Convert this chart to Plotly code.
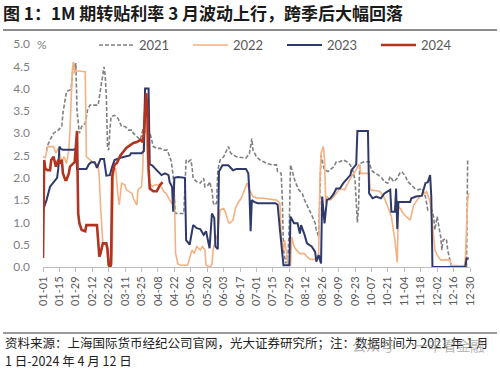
import plotly.graph_objects as go

# ---- data (day of year index, 1M discount rate %) ----
tick_labels = ["01-01", "01-15", "01-29", "02-12", "02-26", "03-11", "03-25", "04-08", "04-22",
               "05-06", "05-20", "06-03", "06-17", "07-01", "07-15", "07-29", "08-12", "08-26",
               "09-09", "09-23", "10-07", "10-21", "11-04", "11-18", "12-02", "12-16", "12-30"]
tick_days = [0, 14, 28, 42, 56, 70, 84, 98, 112, 126, 140, 154, 168, 182, 196, 210, 224, 238,
             252, 266, 280, 294, 308, 322, 336, 350, 364]

series_names = ["2021", "2022", "2023", "2024"]

rate_2021 = [(3, 2.6), (4, 2.73), (6, 2.85), (9, 3.0), (13, 3.07), (16, 3.15), (17, 3.45), (19, 3.82),
             (20, 3.93), (23, 3.97), (24, 4.0), (25, 4.3), (26, 4.57), (27, 4.4), (28, 4.57), (29, 3.5),
             (30, 3.18), (31, 3.0), (33, 3.15), (36, 3.22), (38, 3.52), (40, 3.63), (47, 3.63), (48, 3.82),
             (50, 4.19), (52, 4.49), (53, 4.3), (54, 3.82), (55, 2.7), (56, 2.62), (57, 3.07), (58, 3.37),
             (61, 3.4), (64, 3.33), (67, 3.15), (70, 3.15), (73, 3.07), (76, 3.07), (77, 3.0), (80, 2.92),
             (83, 2.85), (85, 3.07), (88, 3.03), (91, 3.0), (92, 2.92), (94, 2.7), (97, 2.66), (100, 2.66),
             (103, 2.62), (106, 2.62), (108, 2.47), (109, 2.4), (110, 2.25), (111, 2.03), (112, 1.58),
             (113, 1.2), (120, 1.2), (121, 1.8), (122, 2.4), (124, 2.36), (126, 2.4), (127, 2.25),
             (128, 1.99), (131, 1.91), (134, 1.88), (137, 1.99), (138, 1.8), (141, 1.84), (142, 1.91),
             (144, 1.73), (145, 1.46), (146, 1.39), (148, 1.43), (149, 2.17), (151, 2.4), (154, 2.47),
             (156, 2.59), (158, 2.7), (160, 2.55), (162, 2.51), (165, 2.47), (173, 2.44), (176, 2.55),
             (178, 2.88), (179, 2.62), (182, 2.47), (185, 2.4), (188, 2.36), (191, 2.32), (195, 2.29),
             (199, 2.29), (200, 2.14), (203, 2.1), (204, 1.54), (205, 0.38), (207, 0.08), (209, 0.3),
             (210, 1.0), (211, 2.29), (213, 2.1), (215, 1.91), (218, 1.73), (221, 1.65), (223, 1.5),
             (226, 1.35), (229, 1.17), (232, 0.98), (233, 0.83), (235, 0.68), (236, 1.4), (237, 2.5),
             (240, 2.17), (243, 2.14), (248, 2.25), (250, 2.36), (253, 2.36), (256, 2.4), (259, 2.36),
             (262, 2.29), (264, 2.17), (266, 1.95), (268, 1.0), (269, 1.35), (270, 2.32), (274, 2.36),
             (278, 2.36), (280, 2.17), (283, 2.1), (286, 2.06), (289, 1.99), (291, 1.91), (294, 1.88),
             (296, 2.03), (299, 1.91), (302, 1.99), (304, 2.1), (306, 2.14), (309, 2.03), (311, 1.91),
             (314, 1.84), (317, 1.76), (320, 1.73), (323, 1.76), (326, 1.58), (328, 1.28), (331, 1.3),
             (333, 1.13), (334, 0.83), (336, 1.13), (337, 0.98), (339, 0.68), (340, 0.38), (341, 0.6),
             (343, 0.64), (344, 0.6), (345, 0.38), (347, 0.16), (348, 0.02), (361, 0.02), (362, 2.4)]

rate_2022 = [(0, 2.47), (2, 2.45), (4, 2.7), (9, 2.7), (11, 2.55), (13, 2.66), (16, 2.36), (18, 2.47),
             (20, 2.32), (22, 2.62), (23, 3.07), (24, 3.82), (25, 4.42), (26, 4.6), (27, 4.34), (28, 4.4),
             (36, 4.38), (37, 2.47), (40, 2.4), (44, 2.32), (47, 2.3), (48, 2.0), (49, 1.4), (50, 1.05),
             (51, 0.53), (54, 0.5), (55, 0.3), (56, 0.0), (58, 0.0), (59, 0.3), (60, 2.2), (62, 2.2),
             (64, 1.58), (65, 1.39), (67, 1.88), (70, 1.84), (71, 1.73), (74, 1.69), (76, 1.65), (77, 1.54),
             (80, 1.39), (81, 1.73), (84, 1.8), (85, 2.17), (86, 3.0), (87, 3.9), (88, 3.0), (89, 2.4),
             (91, 1.88), (93, 1.8), (95, 1.84), (100, 1.84), (103, 1.69), (105, 1.65), (108, 1.5),
             (111, 1.39), (112, 1.61), (113, 0.31), (115, 0.07), (117, 0.04), (123, 0.04), (124, 0.1),
             (127, 0.38), (129, 0.3), (131, 0.46), (134, 0.38), (136, 0.46), (138, 0.38), (139, 0.04),
             (142, 0.0), (144, 0.05), (145, 0.38), (147, 0.6), (149, 0.75), (151, 1.28), (154, 1.31),
             (156, 1.2), (158, 1.0), (159, 0.98), (162, 1.05), (164, 1.31), (166, 1.43), (169, 1.54),
             (172, 1.73), (174, 1.88), (176, 1.73), (179, 1.58), (182, 1.55), (188, 1.54), (199, 1.5),
             (202, 1.43), (203, 0.68), (205, 0.38), (206, 0.6), (208, 0.23), (209, 0.04), (211, 0.04),
             (212, 0.68), (214, 0.46), (216, 0.38), (219, 0.3), (223, 0.3), (225, 0.23), (228, 0.17),
             (233, 0.17), (235, 0.3), (236, 1.88), (237, 2.55), (239, 2.7), (240, 2.4), (241, 1.43),
             (242, 1.58), (245, 1.5), (248, 1.58), (250, 1.65), (253, 1.76), (257, 1.73), (260, 1.88),
             (263, 2.03), (266, 2.14), (269, 2.29), (270, 2.25), (271, 2.1), (278, 2.1), (279, 1.73),
             (287, 1.7), (290, 1.6), (294, 1.35), (297, 1.13), (300, 0.6), (302, 0.1), (303, 1.35),
             (305, 1.3), (307, 1.2), (310, 1.13), (313, 1.05), (316, 1.39), (320, 1.54), (323, 1.61),
             (327, 1.69), (330, 1.46), (331, 1.13), (333, 0.68), (334, 0.38), (336, 0.27), (339, 0.16),
             (347, 0.16), (348, 0.04), (359, 0.02), (360, 0.16), (361, 0.68), (362, 1.5), (363, 1.65)]

rate_2023 = [(0, 1.28), (3, 1.5), (6, 1.8), (9, 1.9), (12, 2.0), (13, 2.2), (14, 2.7), (15, 2.65),
             (17, 2.63), (26, 2.63), (28, 2.65), (29, 2.2), (30, 2.2), (37, 2.2), (39, 2.3), (41, 2.35),
             (44, 2.35), (46, 2.22), (49, 2.42), (52, 2.42), (54, 2.05), (57, 2.06), (59, 2.25), (61, 2.4),
             (66, 2.45), (74, 2.5), (75, 2.55), (84, 2.55), (86, 2.6), (87, 4.0), (90, 4.0), (91, 2.3),
             (93, 2.28), (97, 2.17), (101, 2.06), (104, 2.1), (107, 2.06), (108, 1.9), (110, 1.8),
             (111, 1.24), (112, 2.0), (115, 2.02), (121, 2.0), (122, 0.6), (125, 0.5), (128, 0.94),
             (131, 0.87), (134, 0.85), (137, 0.72), (139, 0.8), (142, 0.42), (144, 1.2), (146, 1.1),
             (147, 0.46), (149, 0.4), (150, 2.14), (153, 2.28), (158, 2.28), (162, 2.17), (165, 2.2),
             (173, 2.2), (175, 2.1), (176, 1.65), (177, 0.8), (178, 1.5), (180, 1.46), (183, 1.43),
             (198, 1.43), (200, 1.4), (202, 0.83), (204, 0.38), (205, 0.04), (210, 0.04), (211, 1.13),
             (214, 0.98), (217, 0.98), (219, 0.75), (220, 0.94), (223, 0.72), (225, 0.53), (229, 0.46),
             (232, 0.34), (233, 0.12), (235, 0.27), (237, 0.08), (238, 1.58), (240, 0.98), (242, 1.5),
             (245, 1.54), (248, 1.65), (250, 1.76), (253, 1.76), (256, 1.88), (262, 2.06), (263, 2.17),
             (266, 2.29), (267, 2.3), (268, 3.05), (277, 3.05), (278, 1.65), (281, 1.54), (284, 1.58),
             (288, 1.54), (291, 1.65), (296, 1.73), (297, 1.24), (300, 1.24), (301, 1.76), (302, 0.85),
             (303, 1.46), (306, 1.46), (313, 1.46), (314, 1.54), (318, 1.58), (323, 1.6), (326, 1.88),
             (328, 1.9), (330, 2.06), (331, 1.58), (332, 0.0), (360, 0.0), (361, 0.19), (363, 0.19)]

rate_2024 = [(0, 0.2), (1, 2.4), (2, 2.2), (4, 2.17), (6, 2.17), (7, 2.4), (9, 2.47), (11, 2.25),
             (13, 2.4), (14, 2.32), (16, 2.4), (17, 2.1), (19, 1.95), (20, 1.95), (22, 2.1), (23, 2.25),
             (25, 2.3), (27, 2.35), (28, 2.7), (29, 3.05), (30, 1.2), (31, 0.98), (33, 0.83), (36, 0.8),
             (37, 0.94), (40, 0.94), (46, 0.94), (47, 0.6), (48, 0.23), (49, 0.3), (51, 0.53), (54, 0.53),
             (55, 0.4), (56, 0.05), (57, 0.0), (58, 0.05), (59, 2.03), (61, 2.3), (63, 2.33), (66, 2.5),
             (71, 2.67), (77, 2.78), (80, 2.8), (83, 2.85), (85, 2.8), (86, 3.0), (87, 3.5), (88, 3.9),
             (89, 3.5), (90, 2.2), (91, 1.76), (94, 1.7), (97, 1.7), (100, 1.85), (102, 1.9)]

series_data = [rate_2021, rate_2022, rate_2023, rate_2024]
series_colors = ["#808080", "#F4B183", "#2F3A6A", "#B0341F"]
series_widths = [1.6, 1.6, 2.0, 2.6]
series_dash = ["4px,2px", "solid", "solid", "solid"]

title_text = "图 1：1M 期转贴利率 3 月波动上行，跨季后大幅回落"
source_line1 = "资料来源：上海国际货币经纪公司官网，光大证券研究所；注：数据时间为 2021 年 1 月"
source_line2 = "1 日-2024 年 4 月 12 日"
watermark = "公众号 · 一丰看金融"

CJK = "Noto Sans CJK SC"
NUM = "Lato, Noto Sans, sans-serif"

fig = go.Figure()
for name, data, color, width, dash in zip(series_names, series_data, series_colors, series_widths, series_dash):
    fig.add_trace(go.Scatter(
        x=[d for d, _ in data], y=[v for _, v in data], name=name, mode="lines",
        line=dict(color=color, width=width, dash=dash),
    ))

# paper-coordinate helpers (plot area: x 43..470 px, y 44..267 px)
L, R, T, B, W, H = 43, 30, 44, 105, 500, 372
pw, ph = W - L - R, H - T - B


def px_x(px):
    return (px - L) / pw


def px_y(py):
    return (H - B - py) / ph


fig.update_layout(
    width=W, height=H,
    margin=dict(l=L, r=R, t=T, b=B, autoexpand=False),
    paper_bgcolor="white", plot_bgcolor="white",
    showlegend=True,
    legend=dict(orientation="h", x=px_x(94), y=px_y(45), xanchor="left", yanchor="middle",
                font=dict(family=NUM, size=13, color="#595959"),
                itemwidth=35, entrywidth=44, entrywidthmode="pixels",
                bgcolor="rgba(0,0,0,0)", traceorder="normal"),
    title=dict(text="<b>" + title_text + "</b>", xref="container", yref="container",
               x=0.006, y=1 - 14 / H, xanchor="left", yanchor="middle",
               font=dict(family=CJK, size=17, color="#1a1a1a")),
    xaxis=dict(range=[0, 364], tickvals=tick_days, ticktext=tick_labels, tickangle=-90,
               showgrid=False, zeroline=False, showline=True, linecolor="#bfbfbf", linewidth=1,
               ticks="outside", ticklen=4, tickcolor="#bfbfbf", automargin=False,
               tickfont=dict(family=NUM, size=11, color="#595959")),
    yaxis=dict(range=[0, 5], dtick=0.5, tick0=0, tickformat=".1f", showgrid=False,
               zeroline=False, showline=False, ticks="", ticklabelstandoff=12, automargin=False,
               tickfont=dict(family=NUM, size=12, color="#808080")),
    shapes=[
        dict(type="line", xref="paper", yref="paper", x0=px_x(3), x1=px_x(497), y0=px_y(30), y1=px_y(30),
             line=dict(color="#8c8c8c", width=2)),
        dict(type="line", xref="paper", yref="paper", x0=px_x(3), x1=px_x(497), y0=px_y(333), y1=px_y(333),
             line=dict(color="#333333", width=1)),
    ],
    annotations=[
        dict(text="%", xref="paper", yref="paper", x=px_x(35), y=px_y(44), xanchor="left", yanchor="middle",
             showarrow=False, font=dict(family=NUM, size=12, color="#808080")),
        dict(text=source_line1, xref="paper", yref="paper", x=px_x(3), y=px_y(342), xanchor="left",
             yanchor="middle", showarrow=False, font=dict(family=CJK, size=12.5, color="#222222")),
        dict(text=source_line2, xref="paper", yref="paper", x=px_x(3), y=px_y(360), xanchor="left",
             yanchor="middle", showarrow=False, font=dict(family=CJK, size=12.5, color="#222222")),
        dict(text=watermark, xref="paper", yref="paper", x=px_x(418), y=px_y(345), xanchor="center",
             yanchor="middle", showarrow=False, opacity=0.75,
             font=dict(family=CJK, size=14, color="#a0a0a0")),
    ],
)

fig.write_html("out.html", config={"displayModeBar": False},
               post_script="document.body.style.margin='0px';")
